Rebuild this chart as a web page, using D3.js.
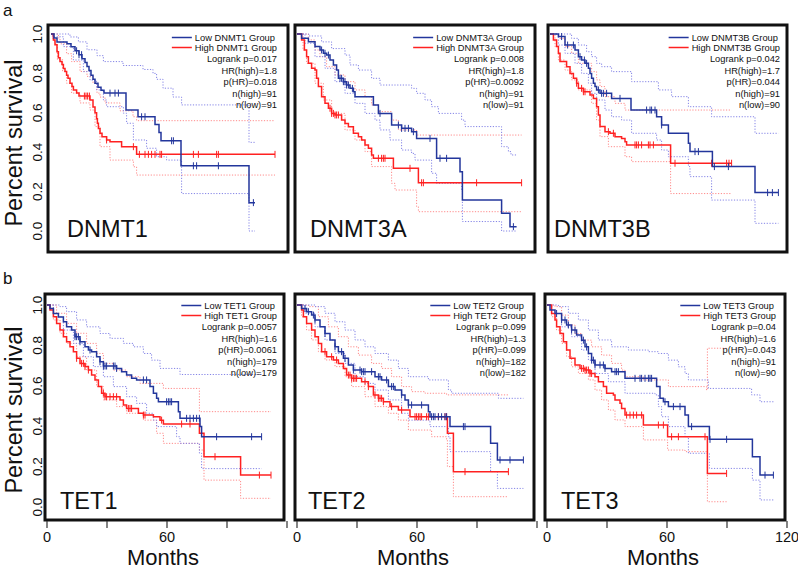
<!DOCTYPE html>
<html>
<head>
<meta charset="utf-8">
<script src="https://cdn.jsdelivr.net/npm/d3@7"></script>
<style>
  body { margin: 0; background: #fff; }
  text { font-family: Arial, "Liberation Sans", Helvetica, sans-serif; fill: #111; }
</style>
</head>
<body>
<div id="chart"></div>
<script>
// ---- labels & stats ----
var genes = ["DNMT1", "DNMT3A", "DNMT3B", "TET1", "TET2", "TET3"];
var logrankP = ["0.017", "0.008", "0.042", "0.0057", "0.099", "0.04"];
var hrHigh = ["1.8", "1.8", "1.7", "1.6", "1.3", "1.6"];
var pHR = ["0.018", "0.0092", "0.044", "0.0061", "0.099", "0.043"];
var nHigh = [91, 91, 91, 179, 182, 91];
var nLow = [91, 91, 90, 179, 182, 90];
var monthTicks = [0, 30, 60, 90, 120];
var monthLabels = [0, 60, 120];
var survTicks = [0, 0.2, 0.4, 0.6, 0.8, 1.0];

// ---- survival curves: [month, survival] ----
var dnmt1Low = [[0,1],[1.5,0.98],[3,0.96],[8,0.95],[10,0.935],[12,0.915],[14,0.895],[15.5,0.875],[17,0.855],[18,0.835],[19,0.815],[20,0.79],[21,0.77],[22,0.75],[23.5,0.73],[25,0.715],[26.5,0.70],[37.5,0.614],[43.5,0.58],[52,0.54],[54,0.50],[55,0.458],[65,0.331],[99,0.144],[102,0.144]];
var dnmt1High = [[0,1],[1.2,0.97],[2,0.945],[3,0.91],[3.7,0.88],[4.5,0.86],[5.5,0.845],[6.2,0.825],[7,0.81],[7.8,0.79],[8.5,0.775],[9.5,0.75],[10.5,0.733],[11.2,0.716],[12.8,0.70],[14,0.685],[19.5,0.665],[21,0.63],[22,0.60],[22.8,0.57],[23.2,0.547],[23.7,0.52],[24.5,0.496],[25.5,0.479],[27.8,0.462],[29.5,0.453],[35.3,0.428],[42.8,0.389],[112,0.389]];
var dnmt1LowCens = [12.8,14,15.3,29.5,32,33.7,45.3,47,60.3,61.2,71.2,72.8,83.7,101.2];
var dnmt1HighCens = [16.7,17.5,18.3,19.2,27.8,41.2,44.2,47,48.7,50.3,52,54.5,55.3,71.2,73.7,82.8,83.7,112];
var dnmt1LowUp = [[0,1],[9.5,0.985],[13.7,0.96],[18,0.92],[23,0.89],[26.2,0.86],[36,0.84],[46,0.82],[51,0.80],[52.8,0.77],[56,0.725],[61,0.68],[65.3,0.64],[99,0.45],[102,0.45]];
var dnmt1LowDn = [[0,1],[0.7,0.986],[6.2,0.936],[11.2,0.868],[16.2,0.809],[19.5,0.766],[22.8,0.716],[26.2,0.665],[27.8,0.631],[36.2,0.598],[37.8,0.547],[41.2,0.462],[47.8,0.42],[52.8,0.377],[57.8,0.36],[65.3,0.19],[99,0],[102,0]];
var dnmt1HighUp = [[0,1],[3.7,0.98],[4.5,0.95],[7.8,0.90],[10.3,0.86],[14.5,0.81],[18,0.785],[21,0.75],[23,0.70],[24.5,0.68],[27,0.65],[34.5,0.61],[41,0.58],[42.8,0.56],[112,0.56]];
var dnmt1HighDn = [[0,1],[1,0.97],[2,0.95],[3.2,0.87],[5.8,0.81],[7.8,0.75],[10.3,0.70],[14.5,0.65],[19.5,0.614],[22,0.53],[24.5,0.428],[29.5,0.36],[41.2,0.326],[42.8,0.284],[112,0.284]];

var dnmt3aLow = [[0,1],[2.3,0.978],[5.7,0.961],[9,0.936],[11.5,0.919],[13.2,0.902],[14.8,0.893],[16.5,0.868],[18.2,0.843],[19.8,0.817],[20.7,0.775],[23.2,0.758],[24.8,0.741],[26.5,0.724],[28.2,0.707],[29,0.682],[38.2,0.64],[40.7,0.597],[47.3,0.538],[52.3,0.521],[57.3,0.504],[59.8,0.47],[69.8,0.369],[81.5,0.301],[82.7,0.157],[102.3,0.09],[106.5,0.022],[109.8,0.022]];
var dnmt3aHigh = [[0,1],[2.3,0.97],[3.7,0.919],[4.8,0.885],[5.7,0.851],[7.3,0.826],[9,0.817],[9.8,0.775],[10.7,0.733],[12.3,0.682],[14,0.648],[15.7,0.623],[17.3,0.597],[19,0.589],[22.3,0.563],[24,0.546],[25.7,0.529],[28.2,0.496],[30.7,0.479],[32.3,0.462],[34,0.437],[35.7,0.42],[37.3,0.386],[38.2,0.369],[48.2,0.318],[60.7,0.245],[112.3,0.245]];
var dnmt3aLowCens = [12.3,14,15.7,21.5,22.3,23.2,24,24.8,25.7,27.7,41.5,50.7,52.3,54,55.7,58.2,66.5,71.5,74.8,108.2];
var dnmt3aHighCens = [16.5,17.3,18.2,19,19.8,20.7,40.7,42.3,43.2,44,56.5,62.3,63.2,89.8,112.3];
var dnmt3aLowUp = [[0,1],[6,0.99],[12.3,0.96],[17.3,0.926],[24,0.893],[26.5,0.843],[30.7,0.817],[37.3,0.775],[41.5,0.741],[57.3,0.724],[59.8,0.699],[64,0.665],[67.3,0.631],[70.7,0.597],[82.3,0.563],[84,0.53],[102.3,0.428],[105.7,0.403],[107,0.386],[109.8,0.386]];
var dnmt3aLowDn = [[0,1],[4,0.953],[9,0.885],[14,0.826],[19,0.758],[24,0.699],[29,0.648],[34,0.597],[39,0.563],[41.5,0.513],[46.5,0.462],[52.3,0.411],[57.3,0.394],[59,0.36],[67.3,0.293],[69.8,0.242],[82.3,0.208],[82.7,0.048],[102.3,0],[109.8,0]];
var dnmt3aHighUp = [[0,1],[5.7,0.97],[9,0.919],[11.5,0.885],[14.8,0.834],[19,0.792],[24,0.758],[29,0.716],[34,0.682],[37.3,0.64],[40.7,0.606],[47.3,0.563],[50.7,0.513],[59.8,0.487],[112.3,0.487]];
var dnmt3aHighDn = [[0,1],[3,0.919],[4.8,0.851],[9,0.75],[13.2,0.665],[17.3,0.597],[24,0.513],[29,0.462],[34,0.403],[37.3,0.327],[47.3,0.242],[49,0.208],[59.8,0.124],[60.7,0.098],[112.3,0.098]];

var dnmt3bLow = [[0,1],[4.2,0.987],[7.5,0.944],[12.5,0.919],[14.2,0.885],[15.8,0.868],[17.5,0.851],[19.2,0.826],[20,0.80],[20.8,0.775],[21.7,0.75],[22.5,0.733],[23.3,0.716],[25,0.699],[30.8,0.673],[40.5,0.614],[53.3,0.58],[55.8,0.538],[59.2,0.496],[69.2,0.445],[70,0.403],[81.2,0.327],[102.5,0.195],[114.2,0.195]];
var dnmt3bHigh = [[0,1],[1.7,0.97],[3.3,0.936],[4.2,0.902],[5,0.86],[8.3,0.834],[10,0.80],[11.7,0.775],[13.3,0.75],[14.2,0.724],[16.7,0.707],[20,0.69],[21.7,0.673],[23.3,0.631],[24.2,0.589],[25,0.53],[27.5,0.504],[30,0.496],[32.5,0.479],[35.8,0.47],[37.5,0.453],[38.3,0.437],[60.3,0.344],[90.8,0.344]];
var dnmt3bLowCens = [5.8,8.8,11.7,15,17.2,18.3,24.2,25.8,26.7,28.3,35,48.3,50,50.8,52.5,55.8,72.5,74.2,82.2,89.2,108.8,111.2,114.2];
var dnmt3bHighCens = [13.3,15.8,16.7,17.5,29.2,31.7,42.5,43.3,44.2,45.8,49.2,50,51.7,62.5,80.8,88.3,89.5,90.8];
var dnmt3bLowUp = [[0,1],[10.8,0.978],[14.2,0.944],[18.3,0.91],[20.8,0.885],[23.3,0.851],[25.8,0.834],[30.8,0.809],[40.8,0.758],[54.2,0.716],[60.8,0.682],[69.2,0.631],[80.8,0.58],[102.5,0.496],[114.2,0.496]];
var dnmt3bLowDn = [[0,1],[4.2,0.944],[7.5,0.902],[12.5,0.851],[15.8,0.80],[19.2,0.75],[20.8,0.699],[23.3,0.665],[27.5,0.614],[30.8,0.58],[35.8,0.563],[40.8,0.496],[53.3,0.462],[55.8,0.411],[59.2,0.377],[69.2,0.327],[70,0.276],[80.8,0.157],[102.5,0.039],[114.2,0.039]];
var dnmt3bHighUp = [[0,1],[4.2,0.978],[7.5,0.936],[10.8,0.902],[14.2,0.851],[20.8,0.809],[23.3,0.767],[25,0.733],[27.5,0.682],[32.5,0.648],[37.5,0.614],[90.8,0.614]];
var dnmt3bHighDn = [[0,1],[2.5,0.936],[4.2,0.868],[7.5,0.817],[10.8,0.767],[14.2,0.716],[20.8,0.648],[23.3,0.563],[25,0.479],[29.2,0.428],[37.5,0.377],[40.8,0.352],[60.3,0.19],[90.8,0.19]];

var tet1Low = [[0,1],[1.5,0.983],[3.2,0.958],[5.7,0.941],[8.2,0.917],[9.8,0.892],[12.3,0.876],[14,0.843],[16.5,0.818],[19,0.793],[20.7,0.777],[22.3,0.769],[24.8,0.744],[26.5,0.719],[28.2,0.698],[34.8,0.686],[37.3,0.67],[39.8,0.653],[42.3,0.637],[44.8,0.629],[51.5,0.596],[53.2,0.563],[54.8,0.538],[55.7,0.521],[65.7,0.472],[66.5,0.439],[76.5,0.398],[77.3,0.348],[107.3,0.348]];
var tet1High = [[0,1],[1.5,0.975],[3.2,0.942],[4.8,0.909],[6.5,0.876],[8.2,0.843],[9.8,0.818],[11.5,0.793],[13.2,0.769],[14.8,0.736],[16.5,0.711],[19,0.695],[20.7,0.678],[22.3,0.653],[24,0.629],[25.7,0.596],[27.3,0.563],[29,0.546],[36.5,0.53],[38.2,0.505],[39.8,0.488],[45.7,0.464],[48.2,0.455],[53.2,0.447],[56.5,0.43],[58.2,0.411],[76.2,0.365],[78.5,0.249],[96.8,0.158],[112,0.158]];
var tet1LowCens = [14,14.8,15.7,16.5,21.5,26.5,28.2,29,29.8,33.2,34,34.8,48.2,49.8,59.8,60.7,61.5,62.3,69.8,71.5,73.2,74.8,76.2,84.8,102.3,107.3];
var tet1HighCens = [14.8,17.3,18.2,19,20.7,28.2,29,29.8,31.5,33.2,34.8,40.7,41.5,42.3,48.2,49,57.3,67.3,71.5,84,106.2,112];
var tet1LowUp = [[0,1],[6.5,0.992],[9.8,0.967],[14.8,0.926],[19.8,0.892],[26.5,0.859],[31.5,0.835],[38.2,0.81],[43.2,0.793],[48.2,0.76],[52.3,0.727],[56.5,0.686],[66.5,0.656],[107.3,0.656]];
var tet1LowDn = [[0,1],[3.2,0.942],[8.2,0.876],[13.2,0.81],[18.2,0.744],[23.2,0.695],[28.2,0.645],[33.2,0.596],[39.8,0.546],[44.8,0.513],[49.8,0.464],[53.2,0.43],[54.8,0.398],[64.8,0.348],[66.5,0.315],[76.2,0.266],[77.3,0.19],[107.3,0.19]];
var tet1HighUp = [[0,1],[4.8,0.959],[9.8,0.909],[14.8,0.86],[19.8,0.81],[24.8,0.76],[28.2,0.711],[33.2,0.678],[39.8,0.645],[46.5,0.612],[58.2,0.587],[76.2,0.472],[112,0.472]];
var tet1HighDn = [[0,1],[3.2,0.926],[6.5,0.86],[9.8,0.81],[14.8,0.744],[19.8,0.678],[24.8,0.596],[28.2,0.53],[34.8,0.497],[39.8,0.464],[48.2,0.43],[54.8,0.365],[58.2,0.315],[76.2,0.282],[78.5,0.133],[96.8,0.043],[112,0.043]];

var tet2Low = [[0,1],[2.3,0.983],[4.8,0.967],[7.3,0.95],[9,0.926],[11.5,0.892],[14,0.859],[16.5,0.827],[19,0.793],[20.7,0.769],[23.2,0.736],[25.7,0.703],[28.2,0.678],[32.3,0.67],[39,0.645],[42.3,0.629],[45.7,0.596],[49,0.579],[52.3,0.555],[54,0.53],[55.7,0.505],[65.7,0.472],[66.5,0.447],[76.5,0.398],[96.8,0.315],[100.2,0.233],[113.2,0.233]];
var tet2High = [[0,1],[2.3,0.975],[3.2,0.942],[4.8,0.909],[7.3,0.876],[9,0.843],[10.7,0.81],[12.3,0.769],[14.8,0.744],[18.2,0.728],[20.7,0.711],[23.2,0.686],[24.8,0.653],[27.3,0.637],[32.3,0.62],[35.7,0.596],[38.2,0.555],[40.7,0.538],[43.2,0.521],[46.5,0.497],[50.7,0.48],[56.5,0.447],[75.2,0.365],[78.2,0.175],[105.7,0.175]];
var tet2LowCens = [4,5.7,8.2,9,14,19,22.3,24,28.2,31.5,32.3,33.2,34,37.3,40.7,41.5,44.8,47.3,48.2,52.3,55.7,57.3,62.3,67.3,68.2,69,70.7,72.3,74,74.8,83.2,84,101.5,106.5,113.2];
var tet2HighCens = [14,17.3,19.8,25.7,26.5,27.3,28.2,29,29.8,34,35.7,39,40.7,41.5,42.3,43.2,47.3,52.3,59,59.8,60.7,61.5,62.3,64.8,65.7,70.7,74,74.8,84,105.7];
var tet2LowUp = [[0,1],[9,0.992],[14,0.959],[19,0.917],[24,0.876],[29,0.827],[34,0.793],[39,0.76],[45.7,0.727],[50.7,0.686],[55.7,0.645],[65.7,0.629],[75.7,0.579],[77.3,0.563],[100.7,0.538],[113.2,0.538]];
var tet2LowDn = [[0,1],[4,0.959],[9,0.892],[14,0.827],[19,0.76],[24,0.711],[29,0.645],[34,0.612],[39,0.579],[45.7,0.53],[52.3,0.464],[55.7,0.43],[66.5,0.398],[75.7,0.348],[76.5,0.274],[96.8,0.175],[100.2,0.092],[113.2,0.092]];
var tet2HighUp = [[0,1],[5.7,0.992],[10.7,0.942],[15.7,0.892],[20.7,0.843],[25.7,0.793],[30.7,0.752],[37.3,0.711],[42.3,0.686],[47.3,0.645],[52.3,0.596],[57.3,0.571],[64,0.563],[74.8,0.555],[105.7,0.555]];
var tet2HighDn = [[0,1],[2.3,0.942],[4.8,0.876],[7.3,0.827],[10.7,0.769],[14,0.728],[19,0.695],[24,0.645],[27.3,0.596],[34,0.546],[39,0.497],[45.7,0.464],[50.7,0.43],[55.7,0.381],[67.3,0.348],[74.8,0.332],[75.2,0.2],[78.2,0.051],[105.7,0.051]];

var tet3Low = [[0,1],[1.5,0.975],[4,0.958],[7.3,0.926],[9.8,0.901],[12.3,0.876],[14.8,0.851],[17.3,0.826],[19,0.793],[20.7,0.76],[22.3,0.727],[24,0.703],[29,0.686],[32.3,0.67],[39,0.637],[54.8,0.596],[56.5,0.538],[58.2,0.521],[60.7,0.497],[69,0.455],[70.7,0.398],[81.2,0.335],[102.7,0.249],[106.5,0.158],[113.2,0.158]];
var tet3High = [[0,1],[2.3,0.958],[4,0.926],[4.8,0.892],[6.5,0.859],[8.2,0.818],[9.8,0.777],[11.5,0.736],[14,0.703],[16.5,0.686],[19,0.678],[21.5,0.661],[24,0.645],[25.7,0.62],[28.2,0.596],[29.8,0.563],[33.2,0.555],[34,0.53],[36.5,0.513],[37.3,0.488],[39,0.455],[48.2,0.406],[60.3,0.348],[80.2,0.166],[89.8,0.166]];
var tet3LowCens = [4.8,7.3,9,10.7,12.3,14,18.2,19.8,22.3,23.2,24,26.5,28.2,29,34,34.8,35.7,44,46.5,47.3,49,50.7,51.5,52.3,59,63.2,66.5,72.3,81.5,89.8,109,113.2];
var tet3HighCens = [17.3,18.2,19,19.8,20.7,21.5,22.3,39.8,41.5,43.2,44.8,47.3,55.7,58.2,62.3,65.7,79,89.8];
var tet3LowUp = [[0,1],[5.7,0.992],[10.7,0.959],[15.7,0.926],[20.7,0.876],[25.7,0.827],[32.3,0.793],[40.7,0.777],[50.7,0.769],[55.7,0.76],[60.7,0.727],[65.7,0.694],[69,0.661],[70.7,0.629],[80.7,0.587],[102.3,0.555],[106.5,0.521],[113.2,0.521]];
var tet3LowDn = [[0,1],[2.3,0.958],[7.3,0.892],[12.3,0.843],[17.3,0.777],[20.7,0.727],[24,0.661],[30.7,0.62],[39,0.563],[54,0.555],[55.7,0.497],[57.3,0.447],[60.7,0.398],[69,0.348],[70.7,0.266],[81.2,0.191],[102.7,0.133],[106.5,0.035],[113.2,0.035]];
var tet3HighUp = [[0,1],[4,0.992],[7.3,0.95],[10.7,0.901],[14,0.859],[17.3,0.826],[22.3,0.793],[27.3,0.752],[32.3,0.711],[37.3,0.678],[39,0.645],[48.2,0.629],[60.7,0.596],[79.8,0.579],[80.2,0.786],[89.8,0.786]];
var tet3HighDn = [[0,1],[2.3,0.942],[4.8,0.876],[7.3,0.81],[9.8,0.744],[12.3,0.694],[15.7,0.661],[20.7,0.629],[24,0.579],[27.3,0.53],[30.7,0.48],[34,0.431],[39,0.398],[48.2,0.332],[60.3,0.282],[69,0.274],[80.2,0.026],[89.8,0.026]];

// group the series per panel
var series = [
  {low: dnmt1Low, high: dnmt1High, lowUp: dnmt1LowUp, lowDn: dnmt1LowDn, highUp: dnmt1HighUp, highDn: dnmt1HighDn, lowCens: dnmt1LowCens, highCens: dnmt1HighCens},
  {low: dnmt3aLow, high: dnmt3aHigh, lowUp: dnmt3aLowUp, lowDn: dnmt3aLowDn, highUp: dnmt3aHighUp, highDn: dnmt3aHighDn, lowCens: dnmt3aLowCens, highCens: dnmt3aHighCens},
  {low: dnmt3bLow, high: dnmt3bHigh, lowUp: dnmt3bLowUp, lowDn: dnmt3bLowDn, highUp: dnmt3bHighUp, highDn: dnmt3bHighDn, lowCens: dnmt3bLowCens, highCens: dnmt3bHighCens},
  {low: tet1Low, high: tet1High, lowUp: tet1LowUp, lowDn: tet1LowDn, highUp: tet1HighUp, highDn: tet1HighDn, lowCens: tet1LowCens, highCens: tet1HighCens},
  {low: tet2Low, high: tet2High, lowUp: tet2LowUp, lowDn: tet2LowDn, highUp: tet2HighUp, highDn: tet2HighDn, lowCens: tet2LowCens, highCens: tet2HighCens},
  {low: tet3Low, high: tet3High, lowUp: tet3LowUp, lowDn: tet3LowDn, highUp: tet3HighUp, highDn: tet3HighDn, lowCens: tet3LowCens, highCens: tet3HighCens}
];

// ---- layout ----
var boxes = [[48,25,288,252],[295,25,535,252],[548,25,787,252],[45,294,284,520],[295,294,534,520],[545,294,785,520]];
var zeroX = [51, 297, 550, 47, 297, 547];
var titleXY = [[67,237],[310,237],[554,237],[60,509],[308,509],[561,509]];
var legendRight = [277, 524, 780, 277, 526, 776];
var legendTop = [37.5, 305.5];
var legendStep = [0, 10, 21.5, 33, 44.5, 56, 67.5];

var blue = "#23369c", red = "#ff2121", blueCI = "#8484e6", redCI = "#ff8a8a";

var yTop = d3.scaleLinear().domain([0, 1]).range([231, 34]);
var yBottom = d3.scaleLinear().domain([0, 1]).range([507, 305]);

var svg = d3.select("#chart").append("svg")
  .attr("width", 798)
  .attr("height", 569);
svg.append("rect").attr("width", 798).attr("height", 569).attr("fill", "#fff");

function survAt(curve, t) {
  var v = curve[0][1];
  curve.forEach(function (p) { if (p[0] <= t) v = p[1]; });
  return v;
}

genes.forEach(function (gene, i) {
  var s = series[i], b = boxes[i], row = i < 3 ? 0 : 1;
  var x = d3.scaleLinear().domain([0, 120]).range([zeroX[i], zeroX[i] + 240]);
  var y = row === 0 ? yTop : yBottom;

  svg.append("clipPath").attr("id", "clip" + i)
    .append("rect")
    .attr("x", b[0]).attr("y", b[1])
    .attr("width", b[2] - b[0]).attr("height", b[3] - b[1]);

  var plot = svg.append("g").attr("clip-path", "url(#clip" + i + ")");

  var line = d3.line()
    .x(function (d) { return x(d[0]); })
    .y(function (d) { return y(d[1]); })
    .curve(d3.curveStepAfter);

  // confidence bands (dotted)
  [[s.highUp, redCI], [s.highDn, redCI], [s.lowUp, blueCI], [s.lowDn, blueCI]].forEach(function (c) {
    plot.append("path")
      .datum(c[0])
      .attr("d", line)
      .attr("fill", "none")
      .attr("stroke", c[1])
      .attr("stroke-width", 1)
      .attr("stroke-dasharray", "1.2,1.6");
  });

  // survival curves + censor marks
  [[s.high, s.highCens, red], [s.low, s.lowCens, blue]].forEach(function (c) {
    plot.append("path")
      .datum(c[0])
      .attr("d", line)
      .attr("fill", "none")
      .attr("stroke", c[2])
      .attr("stroke-width", 1.5);
    plot.selectAll(null)
      .data(c[1])
      .enter().append("line")
      .attr("x1", function (t) { return x(t); })
      .attr("x2", function (t) { return x(t); })
      .attr("y1", function (t) { return y(survAt(c[0], t)) - 3.5; })
      .attr("y2", function (t) { return y(survAt(c[0], t)) + 3.5; })
      .attr("stroke", c[2])
      .attr("stroke-width", 1);
  });

  // frame
  svg.append("rect")
    .attr("x", b[0]).attr("y", b[1])
    .attr("width", b[2] - b[0]).attr("height", b[3] - b[1])
    .attr("fill", "none")
    .attr("stroke", "#111")
    .attr("stroke-width", 3);

  // gene name
  svg.append("text")
    .attr("x", titleXY[i][0]).attr("y", titleXY[i][1])
    .attr("font-size", 23.5)
    .text(gene);

  // legend
  var lg = svg.append("g").attr("font-size", 9.3);
  var ly = legendStep.map(function (d) { return legendTop[row] + d; });
  var hi = lg.append("text")
    .attr("x", legendRight[i]).attr("y", ly[1] + 3.3)
    .attr("text-anchor", "end")
    .text("High " + gene + " Group");
  var start = legendRight[i] - hi.node().getComputedTextLength();
  lg.append("text")
    .attr("x", start).attr("y", ly[0] + 3.3)
    .text("Low " + gene + " Group");
  lg.append("line").attr("x1", start - 23).attr("x2", start - 3)
    .attr("y1", ly[0]).attr("y2", ly[0]).attr("stroke", blue).attr("stroke-width", 1.5);
  lg.append("line").attr("x1", start - 23).attr("x2", start - 3)
    .attr("y1", ly[1]).attr("y2", ly[1]).attr("stroke", red).attr("stroke-width", 1.5);
  var stats = ["Logrank p=" + logrankP[i], "HR(high)=" + hrHigh[i], "p(HR)=" + pHR[i],
               "n(high)=" + nHigh[i], "n(low)=" + nLow[i]];
  stats.forEach(function (txt, k) {
    lg.append("text")
      .attr("x", legendRight[i]).attr("y", ly[k + 2] + 3.3)
      .attr("text-anchor", "end")
      .text(txt);
  });

  // x axis on the bottom row
  if (row === 1) {
    svg.selectAll(null)
      .data(monthTicks)
      .enter().append("line")
      .attr("x1", function (d) { return x(d); })
      .attr("x2", function (d) { return x(d); })
      .attr("y1", 521).attr("y2", 528)
      .attr("stroke", "#333").attr("stroke-width", 1.2);
    svg.selectAll(null)
      .data(i === 5 ? monthLabels : monthLabels.slice(0, 2))
      .enter().append("text")
      .attr("x", function (d) { return x(d); })
      .attr("y", 542)
      .attr("text-anchor", "middle")
      .attr("font-size", 14.5)
      .text(function (d) { return d; });
    svg.append("text")
      .attr("x", x(60) - 4).attr("y", 565)
      .attr("text-anchor", "middle")
      .attr("font-size", 22)
      .text("Months");
  }

  // y axis on the left column
  if (i === 0 || i === 3) {
    svg.selectAll(null)
      .data(survTicks)
      .enter().append("text")
      .attr("transform", function (d) { return "translate(42," + y(d) + ") rotate(-90)"; })
      .attr("text-anchor", "middle")
      .attr("font-size", 13.5)
      .text(function (d) { return d.toFixed(1); });
    svg.append("text")
      .attr("transform", "translate(21.5," + (row === 0 ? 143 : 410) + ") rotate(-90)")
      .attr("text-anchor", "middle")
      .attr("font-size", 23.5)
      .text("Percent survival");
  }
});

// panel letters
svg.append("text").attr("x", 3).attr("y", 15.5).attr("font-size", 17).text("a");
svg.append("text").attr("x", 3).attr("y", 284).attr("font-size", 17).text("b");
</script>
</body>
</html>
